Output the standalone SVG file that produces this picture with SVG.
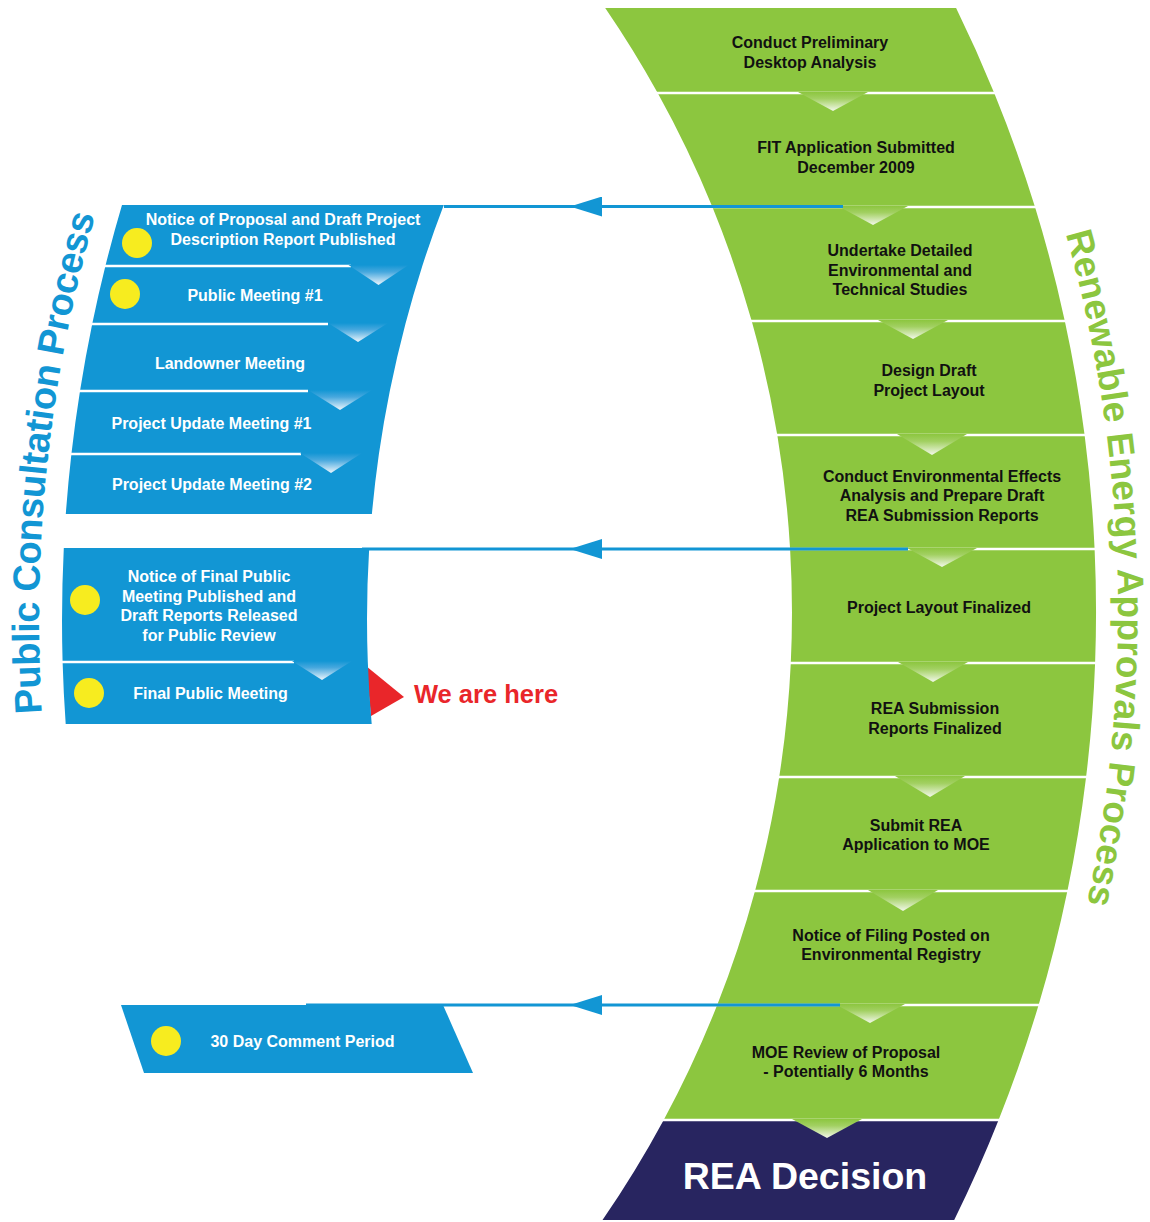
<svg xmlns="http://www.w3.org/2000/svg" width="1150" height="1222" viewBox="0 0 1150 1222">
<defs>
<style>
.g{fill:#8cc63f}
.b{fill:#1296d4}
.n{fill:#282560}
.dot{fill:#f7ec1f}
.tk{font-family:"Liberation Sans",Arial,Helvetica,sans-serif;font-weight:bold;font-size:16px;fill:#111;text-anchor:middle}
.tw{font-family:"Liberation Sans",Arial,Helvetica,sans-serif;font-weight:bold;font-size:16px;fill:#fff;text-anchor:middle}
.sep{stroke:#fff;stroke-width:2.5;fill:none}
.con{stroke:#1296d4;stroke-width:3;fill:none;marker-mid:url(#ah)}
.title{font-family:"Liberation Sans",Arial,Helvetica,sans-serif;font-weight:bold}
</style>
<linearGradient id="gg" x1="0" y1="0" x2="0" y2="1">
<stop offset="0" stop-color="#8cc63f"/>
<stop offset="0.35" stop-color="#a2d062"/>
<stop offset="1" stop-color="#f3f8ea"/>
</linearGradient>
<linearGradient id="bg" x1="0" y1="0" x2="0" y2="1">
<stop offset="0" stop-color="#1296d4"/>
<stop offset="0.35" stop-color="#47a8de"/>
<stop offset="1" stop-color="#eef6fc"/>
</linearGradient>
<marker id="ah" markerUnits="userSpaceOnUse" markerWidth="32" markerHeight="20" refX="32" refY="10" orient="auto" viewBox="0 0 32 20">
<path d="M32,10 L0,0 L0,20 Z" fill="#1296d4"/>
</marker>
<path id="arcBlue" d="M45.6,760 A1483,1483 0 0 1 115.4,150"/>
<path id="arcGreen" d="M1049.5,180 A1396,1396 0 0 1 1073.9,960"/>
</defs>

<!-- Green REA process nodes -->
<g id="g1"><path class="g" d="M605.2,8 L956.1,8 A1374,1374 0 0 1 994.2,93 L657.7,93 A1070,1070 0 0 0 605.2,8 Z"/>
<text class="tk" x="810" y="48">Conduct Preliminary</text><text class="tk" x="810" y="68">Desktop Analysis</text></g>
<g id="g2"><path class="g" d="M657.7,93 L994.2,93 A1374,1374 0 0 1 1035,207 L712.4,207 A1070,1070 0 0 0 657.7,93 Z"/>
<text class="tk" x="856" y="153">FIT Application Submitted</text><text class="tk" x="856" y="172.5">December 2009</text></g>
<g id="g3"><path class="g" d="M712.4,207 L1035,207 A1374,1374 0 0 1 1064.8,321 L751.7,321 A1070,1070 0 0 0 712.4,207 Z"/>
<text class="tk" x="900" y="256">Undertake Detailed</text><text class="tk" x="900" y="276">Environmental and</text><text class="tk" x="900" y="295">Technical Studies</text></g>
<g id="g4"><path class="g" d="M751.7,321 L1064.8,321 A1374,1374 0 0 1 1084.6,435 L777.3,435 A1070,1070 0 0 0 751.7,321 Z"/>
<text class="tk" x="929" y="376">Design Draft</text><text class="tk" x="929" y="396">Project Layout</text></g>
<g id="g5"><path class="g" d="M777.3,435 L1084.6,435 A1374,1374 0 0 1 1094.6,549 L790.1,549 A1070,1070 0 0 0 777.3,435 Z"/>
<text class="tk" x="942" y="482">Conduct Environmental Effects</text><text class="tk" x="942" y="501">Analysis and Prepare Draft</text><text class="tk" x="942" y="521">REA Submission Reports</text></g>
<g id="g6"><path class="g" d="M790.1,549 L1094.6,549 A1374,1374 0 0 1 1095.1,663 L790.8,663 A1070,1070 0 0 0 790.1,549 Z"/>
<text class="tk" x="939" y="613">Project Layout Finalized</text></g>
<g id="g7"><path class="g" d="M790.8,663 L1095.1,663 A1374,1374 0 0 1 1086.1,777 L779.2,777 A1070,1070 0 0 0 790.8,663 Z"/>
<text class="tk" x="935" y="714">REA Submission</text><text class="tk" x="935" y="734">Reports Finalized</text></g>
<g id="g8"><path class="g" d="M779.2,777 L1086.1,777 A1374,1374 0 0 1 1067.4,891 L755,891 A1070,1070 0 0 0 779.2,777 Z"/>
<text class="tk" x="916" y="831">Submit REA</text><text class="tk" x="916" y="850">Application to MOE</text></g>
<g id="g9"><path class="g" d="M755,891 L1067.4,891 A1374,1374 0 0 1 1038.6,1005 L717.2,1005 A1070,1070 0 0 0 755,891 Z"/>
<text class="tk" x="891" y="941">Notice of Filing Posted on</text><text class="tk" x="891" y="960">Environmental Registry</text></g>
<g id="g10"><path class="g" d="M717.2,1005 L1038.6,1005 A1374,1374 0 0 1 998.6,1120 L663.7,1120 A1070,1070 0 0 0 717.2,1005 Z"/>
<text class="tk" x="846" y="1058">MOE Review of Proposal</text><text class="tk" x="846" y="1076.5">- Potentially 6 Months</text></g>
<g id="rea-decision"><path class="n" d="M663.7,1120 L998.6,1120 A1374,1374 0 0 1 954.2,1220 L602.5,1220 A1070,1070 0 0 0 663.7,1120 Z"/>
<text x="805" y="1189" style="font-family:'Liberation Sans',Arial,Helvetica,sans-serif;font-weight:bold;font-size:37.5px;fill:#fff;text-anchor:middle">REA Decision</text></g>

<!-- Blue public consultation nodes -->
<g id="b1"><path class="b" d="M122,205 L443.8,205 A1160,1160 0 0 0 422.3,266 L105.4,266 A1465,1465 0 0 1 122,205 Z"/>
<circle class="dot" cx="137" cy="243" r="15"/>
<text class="tw" x="283" y="225">Notice of Proposal and Draft Project</text><text class="tw" x="283" y="245">Description Report Published</text></g>
<g id="b2"><path class="b" d="M105.4,266 L422.3,266 A1160,1160 0 0 0 405.4,324 L92.2,324 A1465,1465 0 0 1 105.4,266 Z"/>
<circle class="dot" cx="125" cy="294" r="15"/>
<text class="tw" x="255" y="301">Public Meeting #1</text></g>
<g id="b3"><path class="b" d="M92.2,324 L405.4,324 A1160,1160 0 0 0 389.8,391 L80,391 A1465,1465 0 0 1 92.2,324 Z"/>
<text class="tw" x="230" y="369">Landowner Meeting</text></g>
<g id="b4"><path class="b" d="M80,391 L389.8,391 A1160,1160 0 0 0 378.9,454 L71.4,454 A1465,1465 0 0 1 80,391 Z"/>
<text class="tw" x="211.5" y="429">Project Update Meeting #1</text></g>
<g id="b5"><path class="b" d="M71.4,454 L378.9,454 A1160,1160 0 0 0 371.9,514 L65.8,514 A1465,1465 0 0 1 71.4,454 Z"/>
<text class="tw" x="212" y="490">Project Update Meeting #2</text></g>
<g id="b6"><path class="b" d="M63.8,548 L369.2,548 A1160,1160 0 0 0 367.8,662 L62.6,662 A1465,1465 0 0 1 63.8,548 Z"/>
<circle class="dot" cx="85" cy="600" r="15"/>
<text class="tw" x="209" y="582">Notice of Final Public</text><text class="tw" x="209" y="601.5">Meeting Published and</text><text class="tw" x="209" y="621">Draft Reports Released</text><text class="tw" x="209" y="640.5">for Public Review</text></g>
<g id="we-are-here"><polygon points="366,666 404,697 371,716" fill="#e9262a"/>
<text x="414" y="703" style="font-family:'Liberation Sans',Arial,Helvetica,sans-serif;font-weight:bold;font-size:25.5px;fill:#e9262a">We are here</text></g>
<g id="b7"><path class="b" d="M62.6,662 L367.8,662 A1160,1160 0 0 0 371.7,724 L65.7,724 A1465,1465 0 0 1 62.6,662 Z"/>
<circle class="dot" cx="89" cy="693" r="15"/>
<text class="tw" x="210.5" y="699">Final Public Meeting</text></g>
<g id="b8"><polygon class="b" points="121,1005 443,1005 473,1073 144,1073"/>
<circle class="dot" cx="166" cy="1041" r="15"/>
<text class="tw" x="302.5" y="1047">30 Day Comment Period</text></g>

<!-- Connectors: separators, flow chevrons, cross links -->
<g id="connectors">
<path class="sep" d="M655,93 H997 M710,207 H1038 M749,321 H1068 M775,435 H1088 M788,549 H1098 M788,663 H1098 M777,777 H1089 M753,891 H1070 M715,1005 H1041 M661,1120 H1001"/>
<path class="sep" d="M100,266 H351 M88,324 H328 M75,391 H308 M66,454 H301 M58,662 H294"/>
<g fill="url(#gg)">
<polygon points="798,92 868,92 833,111"/>
<polygon points="838,206 908,206 873,225"/>
<polygon points="878,320 948,320 913,339"/>
<polygon points="897,434 967,434 932,455"/>
<polygon points="907,548 977,548 942,567"/>
<polygon points="898,662 968,662 933,682"/>
<polygon points="895,776 965,776 930,797"/>
<polygon points="868,890 938,890 903,911"/>
<polygon points="835,1004 905,1004 870,1023"/>
<polygon points="792,1119 862,1119 827,1138"/>
</g>
<g fill="url(#bg)">
<polygon points="348.5,265 408.5,265 378.5,285"/>
<polygon points="328,323 388,323 358,342"/>
<polygon points="308,390 372,390 340,410"/>
<polygon points="300,453 362,453 331,473"/>
<polygon points="292,661 352,661 322,680"/>
</g>
<polyline class="con" points="843,206.5 570,206.5 444,206.5"/>
<polyline class="con" points="908,549 570,549 362,549"/>
<polyline class="con" points="840,1005 570,1005 306,1005"/>
</g>

<!-- Side titles -->
<text class="title" style="font-size:38px;fill:#1296d4"><textPath href="#arcBlue" startOffset="47" textLength="503" lengthAdjust="spacing">Public Consultation Process</textPath></text>
<text class="title" style="font-size:37px;fill:#8cc63f"><textPath href="#arcGreen" startOffset="56" textLength="677" lengthAdjust="spacing">Renewable Energy Approvals Process</textPath></text>
</svg>
